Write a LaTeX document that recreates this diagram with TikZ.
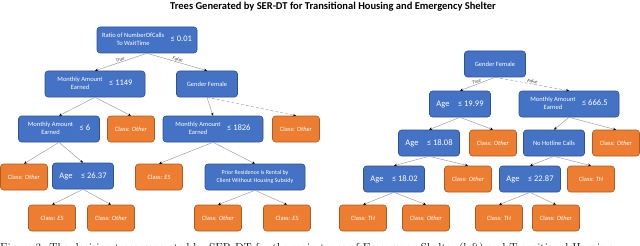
\documentclass[tikz,border=0pt]{standalone}
\usepackage{fontspec}
\newfontfamily\cali{Carlito}
\usetikzlibrary{arrows.meta}

\definecolor{condblue}{HTML}{4472C4}
\definecolor{condline}{HTML}{2F528F}
\definecolor{leaforange}{HTML}{ED7D31}
\definecolor{leafline}{HTML}{AE5A21}

\newcommand{\twoline}[1]{\begin{tabular}{@{}c@{}}#1\end{tabular}}
\newcommand{\thr}[1]{{\fontsize{8.5}{10}\selectfont ≤ #1}}

\tikzset{
  box/.style={rounded corners=3pt, line width=0.6pt, minimum height=26pt, inner sep=2pt,
    text=white, font=\cali\fontsize{6.5}{7.5}\selectfont},
  cond/.style={box, fill=condblue, draw=condline, minimum width=61pt},
  wide/.style={minimum width=100pt},
  leaf/.style={box, fill=leaforange, draw=leafline, minimum width=47pt},
  edge/.style={draw=gray!75, line width=0.5pt, -{Stealth[length=3pt,width=2.6pt,black]}},
  weak/.style={edge, densely dashed},
  branch/.style={font=\cali\itshape\fontsize{5}{6}\selectfont, sloped, above, inner sep=0.8pt, text=black!75}
}

\begin{document}
\begin{tikzpicture}[x=1pt,y=-1pt]
  \useasboundingbox (0,0) rectangle (640,246);
  \node[font=\cali\bfseries\fontsize{10.5}{12}\selectfont] (title) at (333,7)
    {Trees Generated by SER-DT for Transitional Housing and Emergency Shelter};

  % left tree: emergency shelter
  \node[cond, wide] (ratio) at (147,40) {\twoline{Ratio of NumberOfCalls\\To WaitTime}\quad\thr{0.01}};
  \node[cond, wide] (earnA) at (95,84) {\twoline{Monthly Amount\\Earned}\quad\thr{1149}};
  \node[cond] (genderA) at (207,84) {Gender Female};
  \node[cond, minimum width=81pt] (earnB) at (59,129) {\twoline{Monthly Amount\\Earned}\quad\thr{6}};
  \node[leaf] (otherA) at (131,129) {Class: \textit{Other}};
  \node[cond, wide] (earnC) at (213,129) {\twoline{Monthly Amount\\Earned}\quad\thr{1826}};
  \node[leaf] (otherB) at (296,129) {Class: \textit{Other}};
  \node[leaf] (otherC) at (24,177) {Class: \textit{Other}};
  \node[cond] (ageA) at (83,176) {\fontsize{8.5}{10}\selectfont Age\quad ≤ 26.37};
  \node[leaf] (esA) at (159,177) {Class: \textit{ES}};
  \node[cond, wide, font=\cali\fontsize{6}{7.5}\selectfont] (prior) at (255,177)
    {\twoline{Prior Residence is Rental by\\Client Without Housing Subsidy}};
  \node[leaf] (esB) at (52,218) {Class: \textit{ES}};
  \node[leaf] (otherD) at (111,218) {Class: \textit{Other}};
  \node[leaf] (otherE) at (218,218) {Class: \textit{Other}};
  \node[leaf] (esC) at (287,218) {Class: \textit{ES}};

  % right tree: transitional housing
  \node[cond] (genderB) at (495,64) {Gender Female};
  \node[cond] (ageB) at (460,104) {\fontsize{8.5}{10}\selectfont Age\quad ≤ 19.99};
  \node[cond, wide] (earnD) at (569,104) {\twoline{Monthly Amount\\Earned}\quad\thr{666.5}};
  \node[cond] (ageC) at (429,143) {\fontsize{8.5}{10}\selectfont Age\quad ≤ 18.08};
  \node[leaf] (otherF) at (493,143) {Class: \textit{Other}};
  \node[cond] (hotline) at (554,143) {No Hotline Calls};
  \node[leaf] (otherG) at (616,143) {Class: \textit{Other}};
  \node[cond] (ageD) at (394,179) {\fontsize{8.5}{10}\selectfont Age\quad ≤ 18.02};
  \node[leaf] (otherH) at (468,179) {Class: \textit{Other}};
  \node[cond] (ageE) at (530,179) {\fontsize{8.5}{10}\selectfont Age\quad ≤ 22.87};
  \node[leaf] (thA) at (591,179) {Class: \textit{TH}};
  \node[leaf] (thB) at (363,218) {Class: \textit{TH}};
  \node[leaf] (otherI) at (426,218) {Class: \textit{Other}};
  \node[leaf] (thC) at (499,218) {Class: \textit{TH}};
  \node[leaf] (otherJ) at (556,218) {Class: \textit{Other}};

  % connectors
  \draw[edge] (ratio.south) -- node[branch] {True} (earnA.north);
  \draw[edge] (ratio.south) -- node[branch] {False} (genderA.north);
  \draw[edge] (genderB.south) -- node[branch] {True} (ageB.north);
  \draw[weak] (genderB.south) -- node[branch] {False} (earnD.north);
  \draw[weak] (genderA.south) -- (otherB.north);
  \foreach \a/\b in {earnA/earnB, earnA/otherA, genderA/earnC, earnB/otherC, earnB/ageA,
      earnC/esA, earnC/prior, ageA/esB, ageA/otherD, prior/otherE, prior/esC,
      ageB/ageC, ageB/otherF, earnD/hotline, earnD/otherG, ageC/ageD, ageC/otherH,
      hotline/ageE, hotline/thA, ageD/thB, ageD/otherI, ageE/thC, ageE/otherJ}
    \draw[edge] (\a.south) -- (\b.north);

  % caption, cut by the lower edge
  \node[anchor=base west, inner sep=0, font=\fontsize{11.5}{13}\selectfont] (caption) at (0,251)
    {Figure 3: The decision trees generated by SER-DT for the main types of Emergency Shelter (left) and Transitional Housing};
\end{tikzpicture}
\end{document}
